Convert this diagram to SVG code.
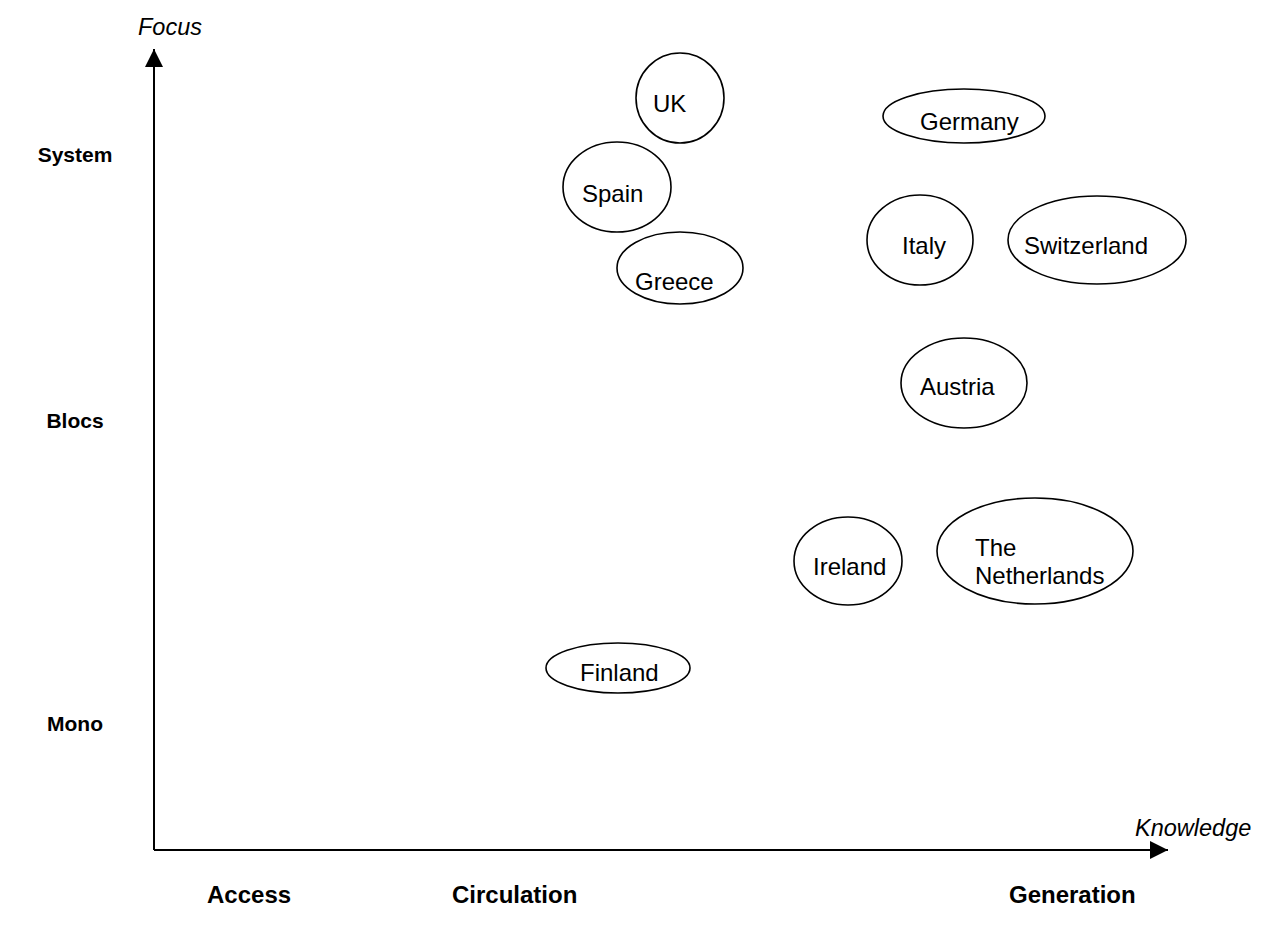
<svg xmlns="http://www.w3.org/2000/svg" width="1266" height="929" viewBox="0 0 1266 929">
<style>
.n{fill:#fff;stroke:#000;stroke-width:1.6}
.t{font-family:"Liberation Sans",Arial,sans-serif;font-size:24px;fill:#000}
.b{font-family:"Liberation Sans",Arial,sans-serif;font-size:24px;font-weight:bold;fill:#000}
.l{font-family:"Liberation Sans",Arial,sans-serif;font-size:21px;font-weight:bold;fill:#000;text-anchor:middle}
.i{font-family:"Liberation Sans",Arial,sans-serif;font-size:23.5px;font-style:italic;fill:#000}
.ax{stroke:#000;stroke-width:2;fill:none}
</style>
<defs>
<marker id="ah" markerWidth="18" markerHeight="18" refX="18" refY="9" orient="auto" markerUnits="userSpaceOnUse">
<path d="M0,0 L18,9 L0,18 Z" fill="#000"/>
</marker>
</defs>
<rect width="1266" height="929" fill="#fff"/>
<g id="axes">
<line class="ax" x1="154" y1="850" x2="154" y2="49" marker-end="url(#ah)"/>
<line class="ax" x1="154" y1="850" x2="1168" y2="850" marker-end="url(#ah)"/>
</g>
<g id="labels">
<text class="i" x="138" y="35">Focus</text>
<text class="i" x="1135" y="836">Knowledge</text>
<text class="l" x="75" y="162">System</text>
<text class="l" x="75" y="428">Blocs</text>
<text class="l" x="75" y="731">Mono</text>
<text class="b" x="207" y="903">Access</text>
<text class="b" x="452" y="903">Circulation</text>
<text class="b" x="1009" y="903">Generation</text>
</g>
<g id="uk"><ellipse class="n" cx="680" cy="98" rx="44" ry="45"/><text class="t" x="653" y="112">UK</text></g>
<g id="spain"><ellipse class="n" cx="617" cy="187" rx="54" ry="45"/><text class="t" x="582" y="202">Spain</text></g>
<g id="greece"><ellipse class="n" cx="680" cy="268" rx="63" ry="36"/><text class="t" x="635" y="290">Greece</text></g>
<g id="germany"><ellipse class="n" cx="964" cy="116" rx="81" ry="27"/><text class="t" x="920" y="130">Germany</text></g>
<g id="italy"><ellipse class="n" cx="920" cy="240" rx="53" ry="45"/><text class="t" x="902" y="254">Italy</text></g>
<g id="switzerland"><ellipse class="n" cx="1097" cy="240" rx="89" ry="44"/><text class="t" x="1024" y="254">Switzerland</text></g>
<g id="austria"><ellipse class="n" cx="964" cy="383" rx="63" ry="45"/><text class="t" x="920" y="395">Austria</text></g>
<g id="ireland"><ellipse class="n" cx="848" cy="561" rx="54" ry="44"/><text class="t" x="813" y="575">Ireland</text></g>
<g id="netherlands"><ellipse class="n" cx="1035" cy="551" rx="98" ry="53"/><text class="t" x="975" y="556">The</text><text class="t" x="975" y="584">Netherlands</text></g>
<g id="finland"><ellipse class="n" cx="618" cy="668" rx="72" ry="25"/><text class="t" x="580" y="681">Finland</text></g>
</svg>
